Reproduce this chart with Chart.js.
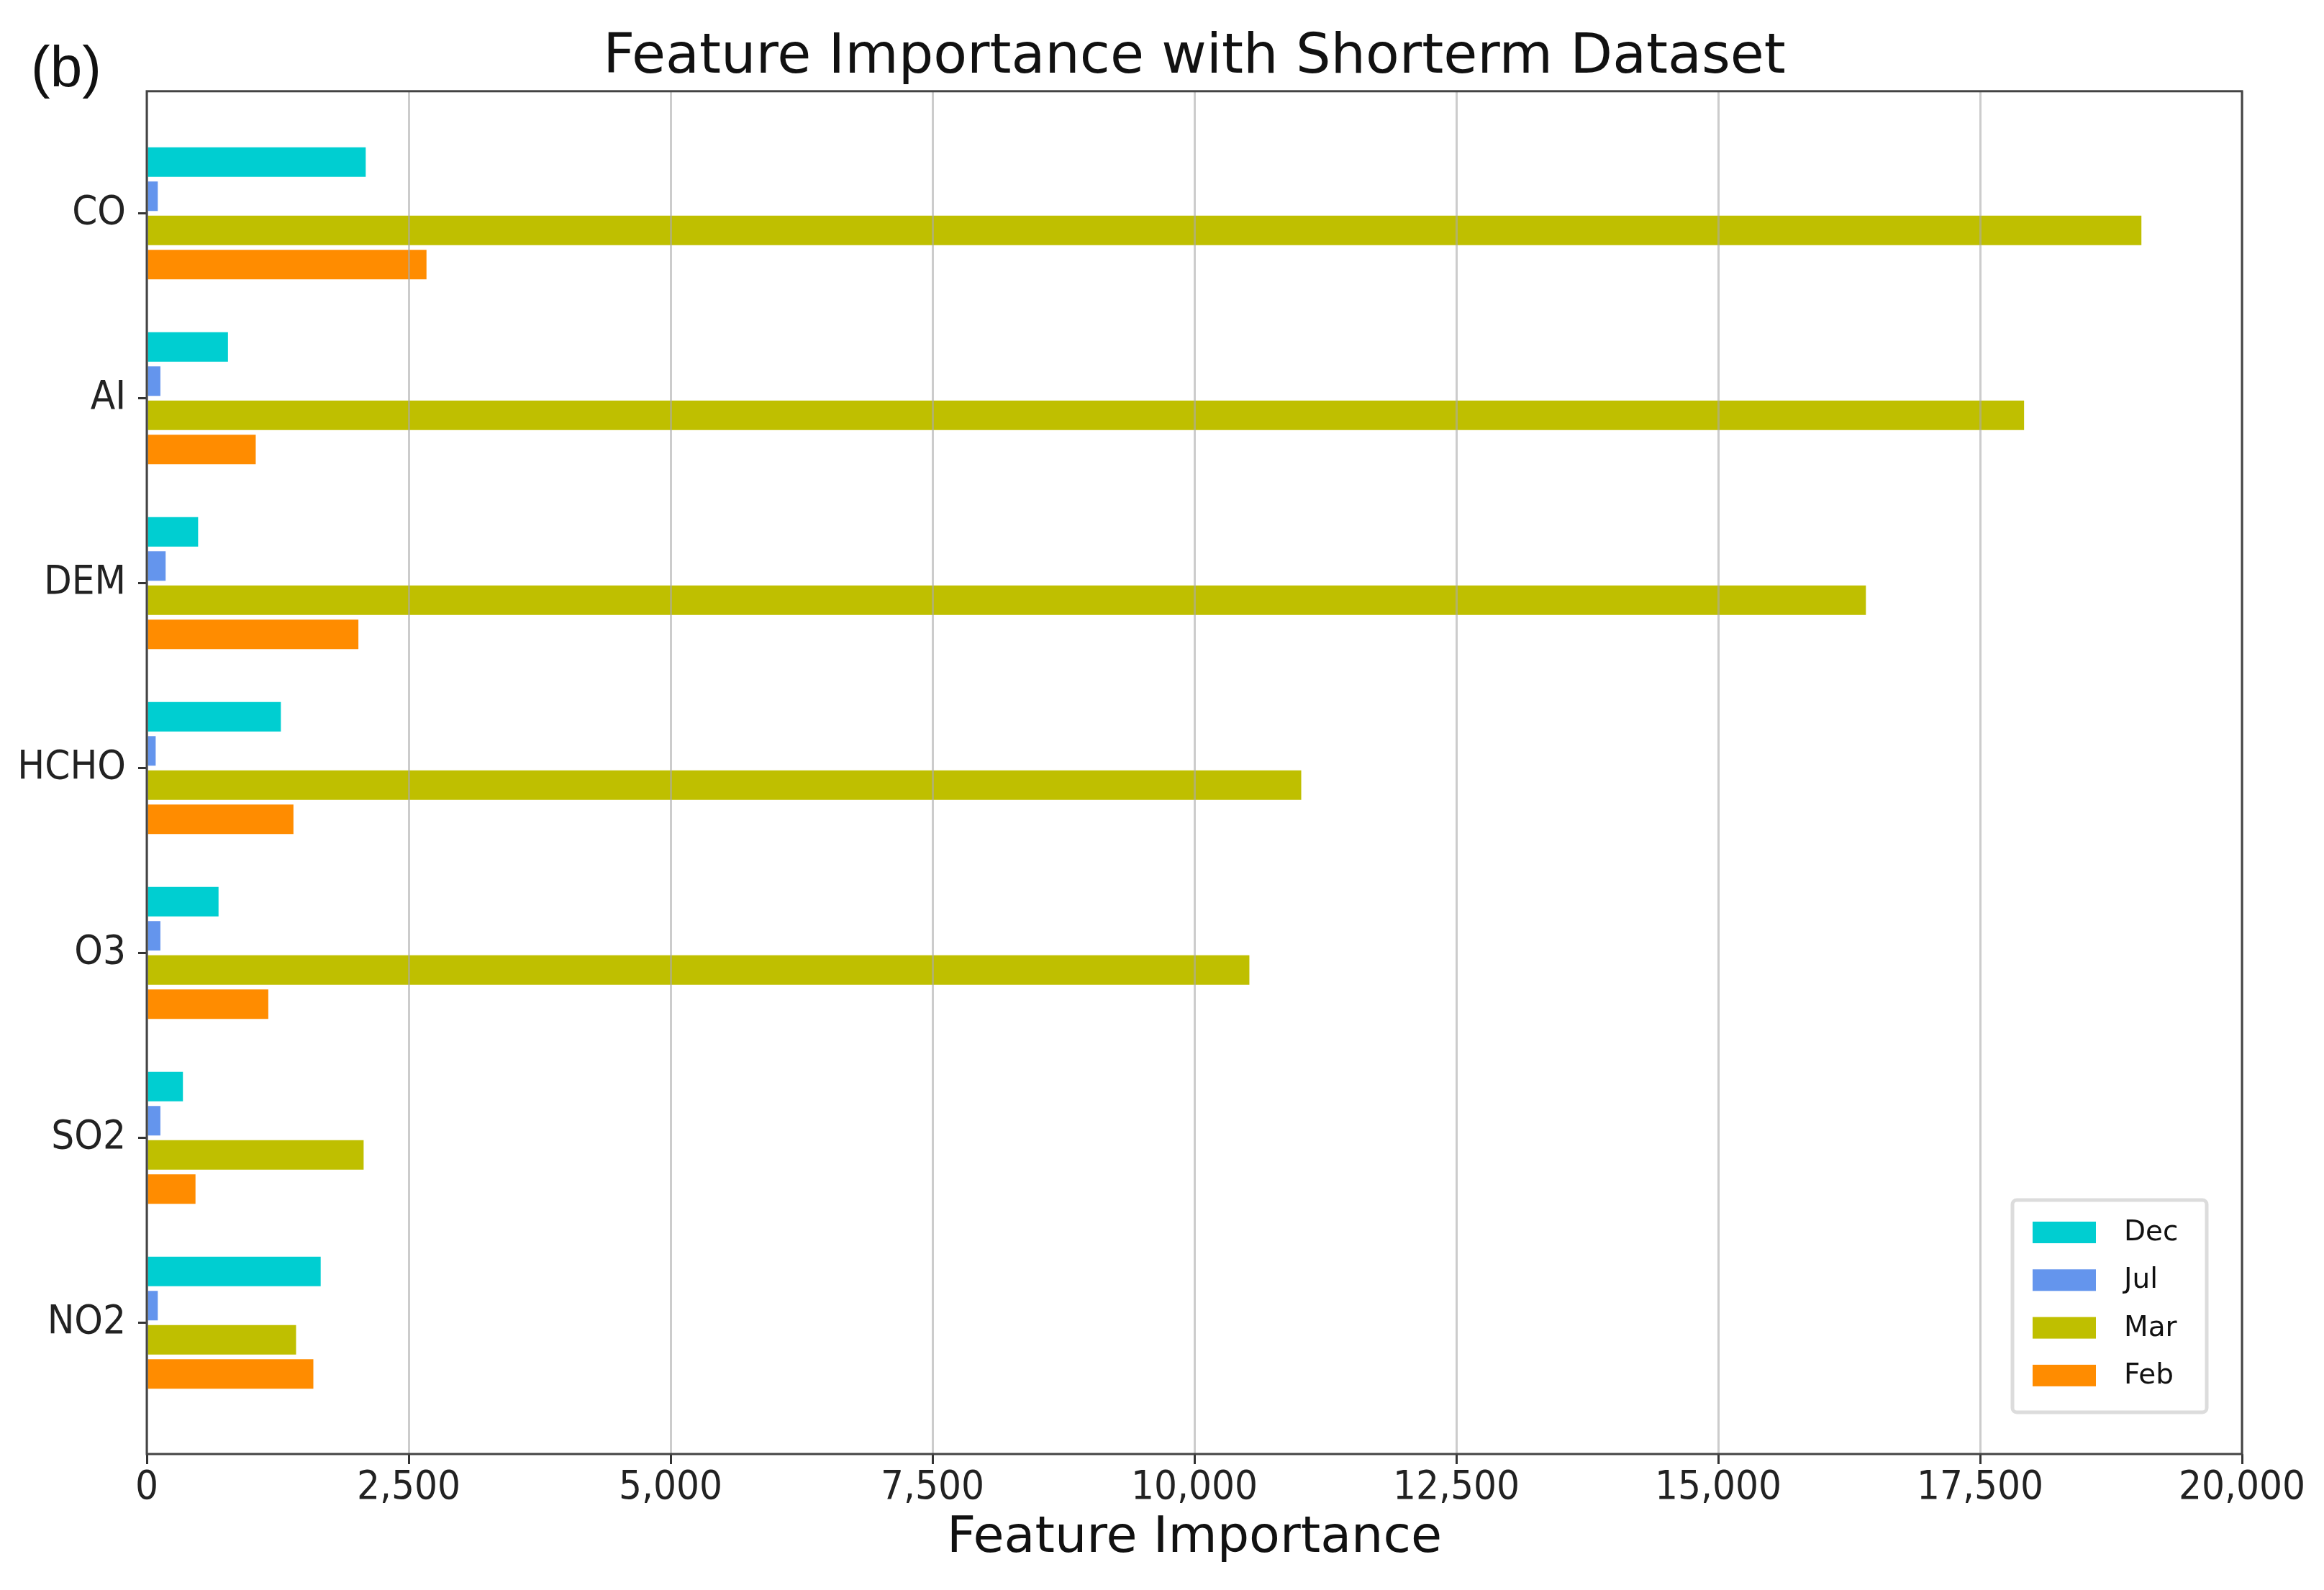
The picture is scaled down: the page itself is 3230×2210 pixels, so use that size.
<!DOCTYPE html>
<html>
<head>
<meta charset="utf-8">
<script src="https://cdn.jsdelivr.net/npm/chart.js@4.4.1/dist/chart.umd.min.js"></script>
<style>
  html, body { margin: 0; padding: 0; background: #ffffff; }
  canvas { display: block; }
</style>
</head>
<body>
<canvas id="c" width="3230" height="2210"></canvas>
<script>
// ---- Data ----
const categories = ['CO', 'AI', 'DEM', 'HCHO', 'O3', 'SO2', 'NO2'];
const seriesNames = ['Dec', 'Jul', 'Mar', 'Feb'];
const decValues = [2090, 775, 490, 1280, 685, 345, 1660];
const julValues = [105, 130, 180, 85, 130, 130, 105];
const marValues = [19040, 17920, 16410, 11020, 10525, 2070, 1425];
const febValues = [2670, 1040, 2020, 1400, 1160, 465, 1590];
const xTickValues = [0, 2500, 5000, 7500, 10000, 12500, 15000, 17500, 20000];
const titleText = 'Feature Importance with Shorterm Dataset';
const xAxisTitle = 'Feature Importance';
const panelLabel = '(b)';

const toPoints = (vals) => vals.map((v, i) => ({ x: v, y: i }));

const TICK_FONT = "'DejaVu Sans Condensed', 'DejaVu Sans', sans-serif";

const decorPlugin = {
  id: 'decor',
  afterDraw(chart) {
    const ctx = chart.ctx, a = chart.chartArea;
    ctx.save();
    // full frame around the plot
    ctx.strokeStyle = '#444444';
    ctx.lineWidth = 3;
    ctx.strokeRect(a.left, a.top, a.right - a.left, a.bottom - a.top);
    // panel label
    ctx.fillStyle = '#111111';
    ctx.font = "80px 'Liberation Sans', Arial, sans-serif";
    ctx.textAlign = 'left';
    ctx.textBaseline = 'alphabetic';
    ctx.fillText(panelLabel, 43, 120);
    // legend box
    const bw = 270, bh = 295;
    const bx = a.right - 49 - bw, by = a.bottom - 58 - bh;
    ctx.beginPath();
    if (ctx.roundRect) ctx.roundRect(bx, by, bw, bh, 6); else ctx.rect(bx, by, bw, bh);
    ctx.fillStyle = 'rgba(255,255,255,0.85)';
    ctx.fill();
    ctx.strokeStyle = '#dcdcdc';
    ctx.lineWidth = 5;
    ctx.stroke();
    ctx.font = "39px 'DejaVu Sans', sans-serif";
    ctx.textBaseline = 'middle';
    chart.data.datasets.forEach((ds, i) => {
      const cy = by + 45 + i * 66.3;
      ctx.fillStyle = ds.backgroundColor;
      ctx.fillRect(bx + 28, cy - 15, 88, 30);
      ctx.fillStyle = '#111111';
      ctx.fillText(ds.label, bx + 155, cy + 1);
    });
    ctx.restore();
  }
};

new Chart(document.getElementById('c'), {
  type: 'bar',
  data: {
    datasets: [
      { label: seriesNames[0], data: toPoints(decValues), backgroundColor: '#00CED1' },
      { label: seriesNames[1], data: toPoints(julValues), backgroundColor: '#6495ED' },
      { label: seriesNames[2], data: toPoints(marValues), backgroundColor: '#BFBF00' },
      { label: seriesNames[3], data: toPoints(febValues), backgroundColor: '#FF8C00' }
    ]
  },
  options: {
    indexAxis: 'y',
    responsive: false,
    animation: false,
    devicePixelRatio: 1,
    categoryPercentage: 0.739,
    barPercentage: 0.863,
    layout: { padding: { left: 0, right: 114, top: 0, bottom: 0 } },
    plugins: {
      legend: { display: false },
      tooltip: { enabled: false },
      title: {
        display: true,
        text: titleText,
        fullSize: false,
        color: '#111111',
        font: { family: "'DejaVu Sans', sans-serif", size: 76.5, weight: 'normal', lineHeight: 1.2 },
        padding: { top: 35, bottom: 0 }
      }
    },
    scales: {
      x: {
        type: 'linear',
        position: 'bottom',
        min: 0,
        max: 20000,
        offset: false,
        afterBuildTicks: (s) => { s.ticks = xTickValues.map(v => ({ value: v })); },
        afterFit: (s) => { s.height = 189; },
        ticks: {
          autoSkip: false,
          maxRotation: 0,
          padding: 0,
          color: '#222222',
          font: { family: TICK_FONT, size: 56, lineHeight: 1.2 },
          callback: (v) => Number(v).toLocaleString('en-US')
        },
        grid: {
          offset: false,
          color: 'rgba(170,170,170,0.6)',
          lineWidth: 3,
          tickLength: 14,
          tickColor: '#333333',
          tickWidth: 3,
          z: 1
        },
        border: { display: false },
        title: {
          display: true,
          text: xAxisTitle,
          color: '#111111',
          font: { family: "'DejaVu Sans', sans-serif", size: 70, lineHeight: 1.2 },
          padding: { top: 0, bottom: 29 }
        }
      },
      y: {
        type: 'linear',
        reverse: true,
        min: -0.66,
        max: 6.71,
        offset: false,
        afterBuildTicks: (s) => { s.ticks = categories.map((_, i) => ({ value: i })); },
        afterFit: (s) => { s.width = 204; },
        ticks: {
          autoSkip: false,
          padding: 17,
          color: '#222222',
          font: { family: TICK_FONT, size: 56, lineHeight: 1.2 },
          callback: (v) => categories[v]
        },
        grid: {
          display: true,
          offset: false,
          drawOnChartArea: false,
          drawTicks: true,
          tickLength: 12,
          tickColor: '#333333',
          tickWidth: 3
        },
        border: { display: false }
      }
    }
  },
  plugins: [decorPlugin]
});
</script>
</body>
</html>
